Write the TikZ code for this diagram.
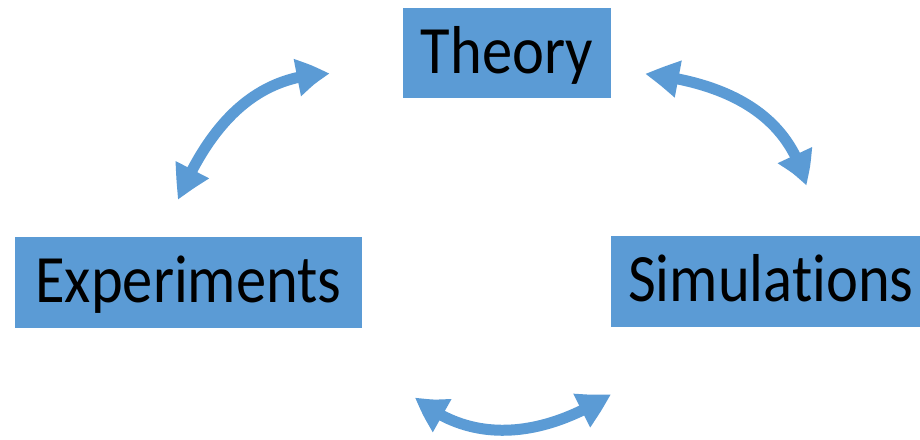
\documentclass[tikz,border=0pt]{standalone}
\usepackage{fontspec}
\setmainfont{Carlito}[Ligatures={NoCommon}]
\usetikzlibrary{arrows.meta,bending}
\definecolor{boxblue}{HTML}{5B9BD5}
\tikzset{
  labelbox/.style={fill=boxblue, inner sep=0pt, text height=40pt, text depth=0pt,
    font=\fontsize{60.5}{70}\selectfont, text=black},
  cyclearrow/.style={draw=boxblue, line width=11pt,
    {Triangle[width=35pt,length=34pt,bend]}-{Triangle[width=35pt,length=34pt,bend]}}
}
\newcommand{\tallstretch}[1]{\scalebox{1}[1.12]{#1}}
\begin{document}
\begin{tikzpicture}[x=1pt,y=1pt]
\clip (0,0) rectangle (920,-439);
\fill[white] (0,0) rectangle (920,-439);
\node[labelbox, minimum width=208pt, minimum height=90pt] (theory) at (507,-53) {\tallstretch{Theory}};
\node[labelbox, minimum width=347pt, minimum height=91pt] (exp) at (188.5,-282.5) {\tallstretch{Experiments}};
\node[labelbox, minimum width=320pt, minimum height=91pt] (sim) at (771,-281.5) {\tallstretch{Simulations}};
\coordinate (a1) at (330,-74);
\coordinate (a2) at (178,-200);
\coordinate (b1) at (645,-74);
\coordinate (b2) at (806,-186);
\coordinate (c1) at (415,-397);
\coordinate (c2) at (611,-394);
\draw[cyclearrow] (a1) to[out=180,in=67] (a2);
\draw[cyclearrow] (b1) to[out=-6,in=103] (b2);
\draw[cyclearrow] (c1) to[out=-41,in=213] (c2);
\end{tikzpicture}
\end{document}
